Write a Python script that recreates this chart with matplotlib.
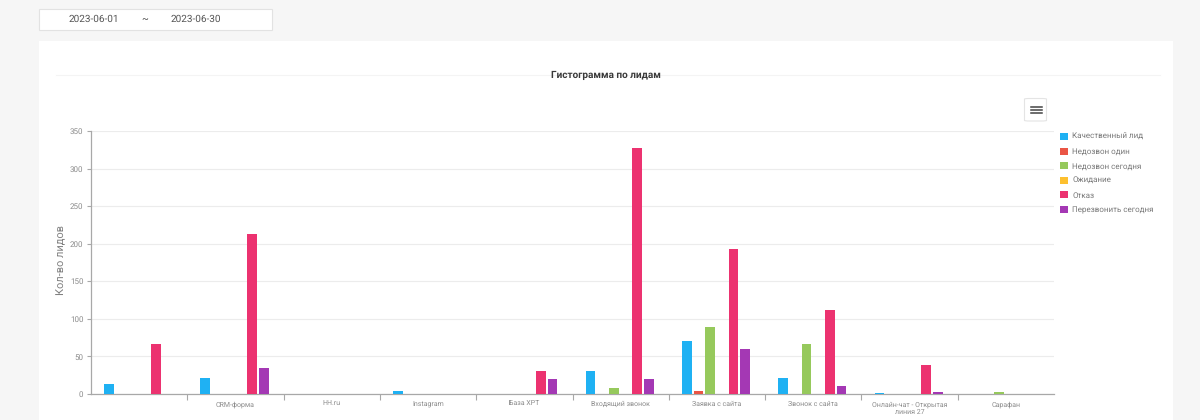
import numpy as np
import matplotlib
matplotlib.use("Agg")
import matplotlib.pyplot as plt
from matplotlib.patches import Rectangle, FancyBboxPatch
from matplotlib.lines import Line2D

plt.rcParams['font.family'] = ['Roboto', 'DejaVu Sans']
plt.rcParams['text.hinting'] = 'none'
plt.rcParams['text.hinting_factor'] = 1

categories = ["", "CRM-форма", "HH.ru", "Instagram", "База ХРТ", "Входящий звонок",
              "Заявка с сайта", "Звонок с сайта", "Онлайн-чат - Открытая\nлиния 27", "Сарафан"]
kachestvenny = [13, 21, 0, 4, 0, 31, 71, 21, 1, 0]
nedozvon_odin = [0, 0, 0, 0, 0, 0, 4, 0, 0, 0]
nedozvon_segodnya = [0, 0, 0, 0, 0, 8, 89, 67, 0, 2]
ozhidanie = [0, 0, 0, 0, 0, 0, 0, 0, 0, 0]
otkaz = [66, 213, 0, 0, 31, 327, 193, 112, 38, 0]
perezvonit = [0, 35, 0, 0, 20, 20, 60, 10, 2, 0]

series_names = ["Качественный лид", "Недозвон один", "Недозвон сегодня", "Ожидание", "Отказ", "Перезвонить сегодня"]
series_values = [kachestvenny, nedozvon_odin, nedozvon_segodnya, ozhidanie, otkaz, perezvonit]
colors = ["#1fb1f3", "#ea5545", "#96c95c", "#fdc02f", "#ec3270", "#a438b4"]
y_ticks = [0, 50, 100, 150, 200, 250, 300, 350]

W, H = 1200, 420
fig = plt.figure(figsize=(12, 4.2), dpi=100, facecolor="#f6f6f6")

def fx(x): return x / W
def fy(y): return 1 - y / H

# card and date picker
fig.add_artist(Rectangle((fx(39), 0), 1134 / W, fy(41), transform=fig.transFigure,
                         facecolor="white", edgecolor="none", zorder=-5))
fig.add_artist(Rectangle((fx(39.5), fy(29.5)), 232 / W, 20 / H, transform=fig.transFigure,
                         facecolor="white", edgecolor="#e2e2e2", linewidth=0.8, zorder=-4))
for x, s in [(94, "2023-06-01"), (145, "~"), (196, "2023-06-30")]:
    fig.text(fx(x), fy(19.5), s, ha="center", va="center", fontsize=7.0, color="#555555")

# title and its rule
fig.add_artist(Line2D([fx(56), fx(1160)], [fy(75), fy(75)], color="#f4f4f4", linewidth=0.8))
fig.add_artist(Rectangle((fx(540), fy(81)), 132 / W, 12 / H, transform=fig.transFigure,
                         facecolor="white", edgecolor="none", zorder=1))
fig.text(fx(606), fy(75.5), "Гистограмма по лидам", ha="center", va="center",
         fontsize=7.2, fontweight="bold", color="#3a3a3a", zorder=2)

# menu button
fig.add_artist(FancyBboxPatch((fx(1024.5), fy(121)), 22 / W, 22.5 / H, transform=fig.transFigure,
                              boxstyle="round,pad=0,rounding_size=0.004", mutation_aspect=H / W,
                              facecolor="white", edgecolor="#e4e4e4", linewidth=0.8))
for y in (106.5, 110, 113.5):
    fig.add_artist(Line2D([fx(1030.5), fx(1041.5)], [fy(y), fy(y)], color="#444444", linewidth=1.1))

# chart
ax = fig.add_axes([fx(91), fy(394), (1054 - 91) / W, (394 - 131) / H])
ax.set_facecolor("none")
x = np.arange(len(categories))
step = 0.1213
width = 0.1
shift = -0.01
handles = []
for i, (name, vals, col) in enumerate(zip(series_names, series_values, colors)):
    b = ax.bar(x + (i - 2.5) * step + shift, vals, width=width, color=col, label=name, zorder=3)
    handles.append(b)

ax.set_xlim(-0.5, len(categories) - 0.5)
ax.set_ylim(0, 350)
ax.set_yticks(y_ticks)
ax.grid(axis="y", color="#ececec", linewidth=0.8, zorder=0)
ax.set_axisbelow(True)
for s in ("top", "right"):
    ax.spines[s].set_visible(False)
for s in ("left", "bottom"):
    ax.spines[s].set_color("#a8a8a8")
    ax.spines[s].set_linewidth(0.9)
ax.tick_params(axis="y", labelsize=5.6, labelcolor="#8c8c8c", color="#a8a8a8", length=3, width=0.8, pad=2.5)

# category ticks at the band edges, labels centred in the bands
ax.set_xticks(np.arange(len(categories) - 1) + 0.5)
ax.set_xticklabels([])
ax.tick_params(axis="x", color="#a8a8a8", length=4, width=0.8)
ax.set_xticks(x, minor=True)
ax.set_xticklabels(categories, minor=True, fontsize=4.9, color="#8c8c8c", linespacing=1.15, va="top")
ax.tick_params(axis="x", which="minor", length=0, pad=5)

fig.text(fx(61.5), fy(260), "Кол-во лидов", rotation=90, ha="center", va="center",
         fontsize=7.6, color="#808080")

leg = fig.legend(handles=handles, labels=series_names, loc="upper left",
                 bbox_to_anchor=(fx(1058.5), fy(131.5)), frameon=False, fontsize=5.5,
                 handlelength=1.05, handleheight=1.05, handletextpad=0.55,
                 labelspacing=0.89, borderpad=0.2, borderaxespad=0)
for t in leg.get_texts():
    t.set_color("#7a7a7a")

fig.savefig("out.png", dpi=100, facecolor=fig.get_facecolor())
